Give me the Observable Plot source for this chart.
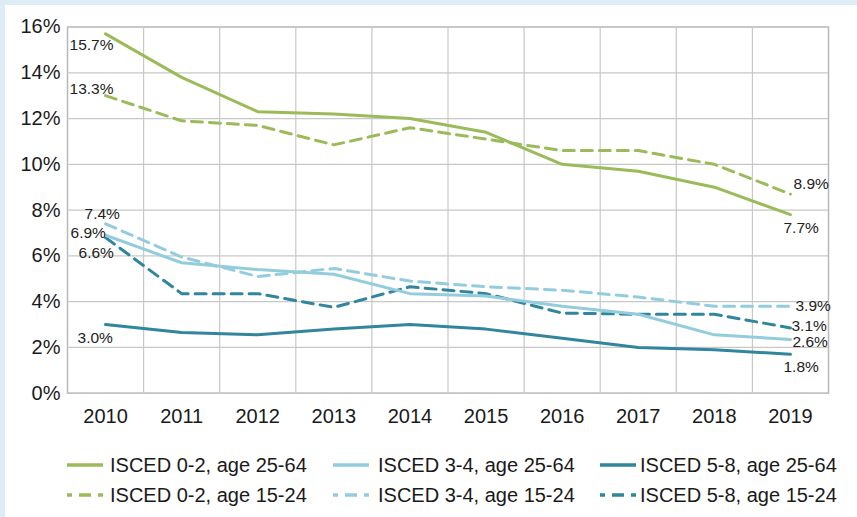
<!DOCTYPE html>
<html><head><meta charset="utf-8">
<script src="https://cdn.jsdelivr.net/npm/d3@7"></script>
<script src="https://cdn.jsdelivr.net/npm/@observablehq/plot@0.6"></script>
<style>
html,body{margin:0;padding:0;background:#ddedf5;width:857px;height:517px;overflow:hidden;font-family:"Liberation Sans",Arial,sans-serif;}
#panel{position:absolute;left:5px;top:5px;width:852px;height:512px;background:#fff;}
#chart{position:absolute;left:0;top:0;}
#legend{position:absolute;left:0;top:0;width:852px;height:512px;}
.sw{position:absolute;}
.lt{position:absolute;font-size:20px;color:#1a1a1a;white-space:nowrap;line-height:24px;}
</style></head><body>
<div id="panel"><div id="chart"></div><div id="legend"></div></div>
<script>
// ---- data ----
const years = [2010, 2011, 2012, 2013, 2014, 2015, 2016, 2017, 2018, 2019];
const isced02_2564 = [15.7, 13.8, 12.3, 12.2, 12.0, 11.4, 10.0, 9.7, 9.0, 7.8];
const isced34_2564 = [6.9, 5.7, 5.4, 5.2, 4.35, 4.25, 3.8, 3.45, 2.55, 2.35];
const isced58_2564 = [3.0, 2.65, 2.55, 2.8, 3.0, 2.8, 2.4, 2.0, 1.9, 1.7];
const isced02_1524 = [13.0, 11.9, 11.7, 10.85, 11.6, 11.1, 10.6, 10.6, 10.0, 8.7];
const isced34_1524 = [7.4, 5.95, 5.1, 5.45, 4.9, 4.65, 4.5, 4.2, 3.8, 3.8];
const isced58_1524 = [6.8, 4.35, 4.35, 3.75, 4.65, 4.35, 3.5, 3.45, 3.45, 2.85];
const seriesNames = [
  "ISCED 0-2, age 25-64", "ISCED 3-4, age 25-64", "ISCED 5-8, age 25-64",
  "ISCED 0-2, age 15-24", "ISCED 3-4, age 15-24", "ISCED 5-8, age 15-24"
];
const seriesValues = [isced02_2564, isced34_2564, isced58_2564, isced02_1524, isced34_1524, isced58_1524];
const yTicks = [0, 2, 4, 6, 8, 10, 12, 14, 16];
// value labels: [series index, year, text]
const labelSeries = [0, 3, 4, 1, 5, 2, 3, 0, 4, 5, 1, 2];
const labelYears  = [2010, 2010, 2010, 2010, 2010, 2010, 2019, 2019, 2019, 2019, 2019, 2019];
const labelTexts  = ["15.7%", "13.3%", "7.4%", "6.9%", "6.6%", "3.0%", "8.9%", "7.7%", "3.9%", "3.1%", "2.6%", "1.8%"];

// ---- styles ----
const colors = ["#9BBB59", "#93CDDD", "#31859C", "#9BBB59", "#93CDDD", "#31859C"];
const dashed = [false, false, false, true, true, true];
const labelOffsets = [[-36, 11], [-36, -7], [-21, -10], [-35, -2], [-27, 15], [-28, 13.5],
                      [3, -10], [-7, 13.5], [5, 0], [1, -2], [2, 2.5], [-7, 13]];

const table = [];
seriesNames.forEach((s, k) => years.forEach((y, i) => table.push({series: s, k, year: y, value: seriesValues[k][i]})));

const marks = [
  Plot.frame({fill: "white", stroke: "#b8b8b8", strokeWidth: 1.5}),
  Plot.ruleY(yTicks, {stroke: "#c8c8c8", strokeWidth: 1.2}),
  Plot.ruleX(d3.range(2010.5, 2019, 1), {stroke: "#c8c8c8", strokeWidth: 1.2}),
  Plot.axisX({ticks: years, tickFormat: "d", tickSize: 0, tickPadding: 16, fontSize: 20}),
  Plot.axisY({ticks: yTicks, tickFormat: d => d + "%", tickSize: 0, tickPadding: 7, fontSize: 20})
];
[3, 4, 5, 0, 1, 2].forEach(k => {
  marks.push(Plot.line(table.filter(d => d.k === k), {
    x: "year", y: "value", stroke: colors[k], strokeWidth: 3,
    strokeDasharray: dashed[k] ? "11,7" : null, strokeLinejoin: "round"
  }));
});
labelTexts.forEach((t, i) => {
  const k = labelSeries[i];
  const idx = years.indexOf(labelYears[i]);
  marks.push(Plot.text([{x: labelYears[i], y: seriesValues[k][idx], t}], {
    x: "x", y: "y", text: "t", textAnchor: "start", fontSize: 15.5, fill: "#222",
    dx: labelOffsets[i][0], dy: labelOffsets[i][1]
  }));
});

const chart = Plot.plot({
  width: 852, height: 430,
  marginLeft: 62, marginRight: 29, marginTop: 21.5, marginBottom: 42.3,
  x: {type: "linear", domain: [2009.5, 2019.5]},
  y: {domain: [0, 16]},
  style: {fontFamily: "'Liberation Sans', Arial, sans-serif", color: "#1a1a1a", background: "transparent", overflow: "visible"},
  marks
});
document.getElementById("chart").appendChild(chart);
d3.select(chart).select('g[aria-label="frame"] rect')
  .style("filter", "drop-shadow(4px 4px 4px rgba(0,0,0,0.35))");

// ---- legend ----
const legendPos = [[62, 460, 105], [328, 460, 373], [595, 460, 635], [62, 490, 105], [328, 490, 373], [595, 490, 635]];
const lg = document.getElementById("legend");
seriesNames.forEach((s, k) => {
  const [sx, cy, tx] = legendPos[k];
  const sw = document.createElementNS("http://www.w3.org/2000/svg", "svg");
  sw.setAttribute("class", "sw");
  sw.setAttribute("width", 36); sw.setAttribute("height", 8);
  sw.style.left = sx + "px"; sw.style.top = (cy - 4) + "px";
  const ln = document.createElementNS("http://www.w3.org/2000/svg", "line");
  ln.setAttribute("x1", 0); ln.setAttribute("x2", 36); ln.setAttribute("y1", 4); ln.setAttribute("y2", 4);
  ln.setAttribute("stroke", colors[k]); ln.setAttribute("stroke-width", 3.5);
  if (dashed[k]) { ln.setAttribute("stroke-dasharray", "12,7"); ln.setAttribute("stroke-dashoffset", 7); }
  sw.appendChild(ln);
  lg.appendChild(sw);
  const tEl = document.createElement("div");
  tEl.className = "lt";
  tEl.textContent = s;
  tEl.style.left = tx + "px"; tEl.style.top = (cy - 12) + "px";
  lg.appendChild(tEl);
});
</script>
</body></html>
